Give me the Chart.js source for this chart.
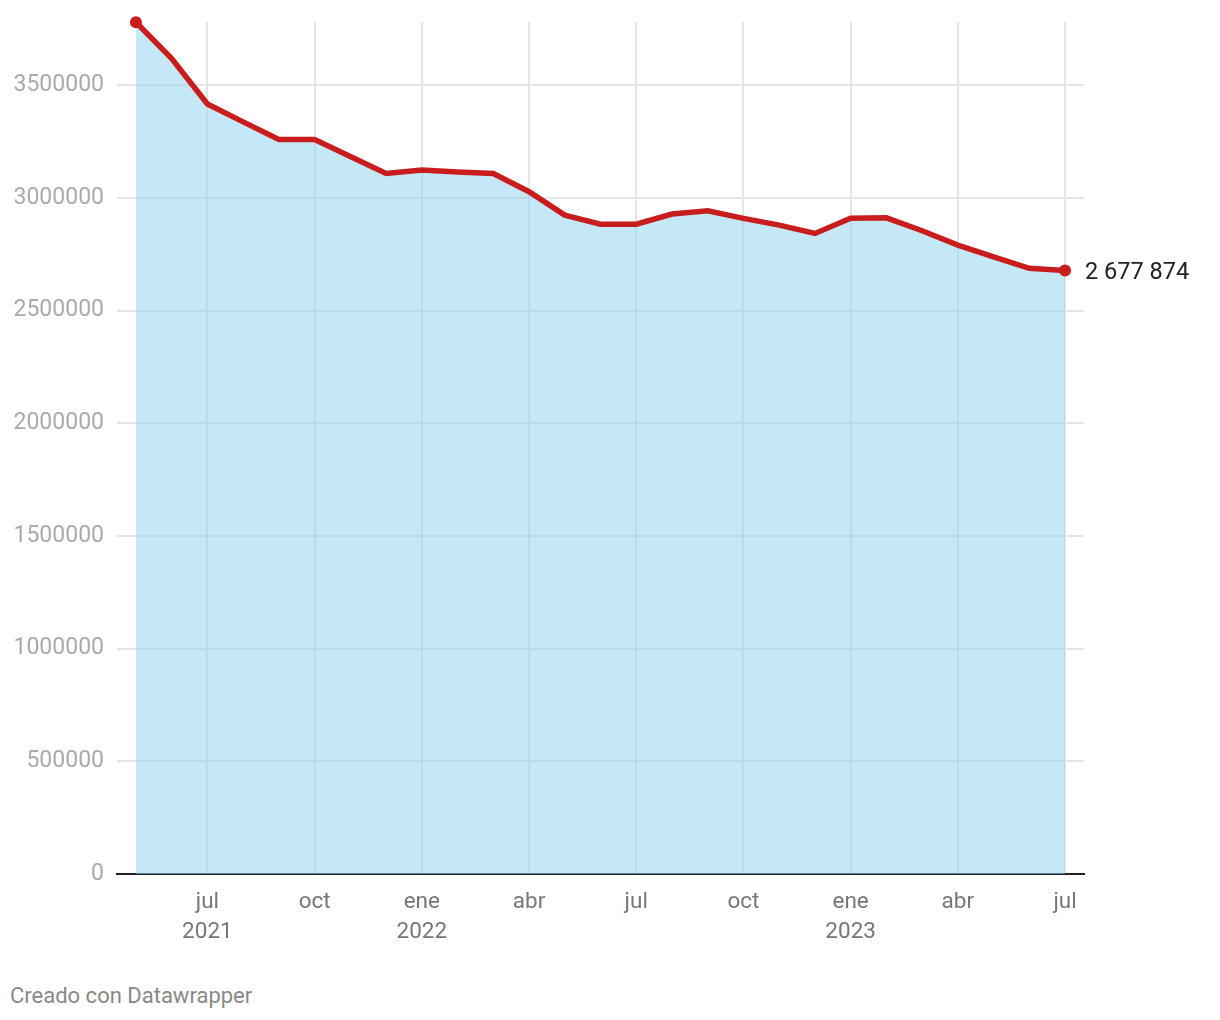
<!DOCTYPE html>
<html>
<head>
<meta charset="utf-8">
<script src="https://cdn.jsdelivr.net/npm/chart.js@4/dist/chart.umd.min.js"></script>
<style>
  body { margin: 0; background: #fff; font-family: Roboto, sans-serif; }
  #wrap { position: relative; width: 1220px; height: 1020px; }
  #chart { position: absolute; left: 0; top: 0; }
  #footer { position: absolute; left: 10px; top: 983px; font-size: 22px; color: #888; }
</style>
</head>
<body>
<div id="wrap">
  <canvas id="chart" width="1220" height="960"></canvas>
  <div id="footer">Creado con Datawrapper</div>
</div>
<script>
// months from may 2021 (index 0) to jul 2023 (index 26)
const months = [
  'may 2021', 'jun 2021', 'jul 2021', 'ago 2021', 'sep 2021', 'oct 2021', 'nov 2021', 'dic 2021',
  'ene 2022', 'feb 2022', 'mar 2022', 'abr 2022', 'may 2022', 'jun 2022', 'jul 2022', 'ago 2022',
  'sep 2022', 'oct 2022', 'nov 2022', 'dic 2022', 'ene 2023', 'feb 2023', 'mar 2023', 'abr 2023',
  'may 2023', 'jun 2023', 'jul 2023'
];
const values = [
  3779000, 3618000, 3416000, 3337000, 3259000, 3259000, 3183000, 3108000,
  3123000, 3114000, 3108000, 3027000, 2923000, 2883000, 2883000, 2928000,
  2942000, 2909000, 2879000, 2842000, 2909000, 2911000, 2854000, 2790000,
  2738000, 2687000, 2677874
];
// x tick positions (month index) and their labels
const tickIdx = [2, 5, 8, 11, 14, 17, 20, 23, 26];
const tickLabels = [['jul', '2021'], 'oct', ['ene', '2022'], 'abr', 'jul', 'oct', ['ene', '2023'], 'abr', 'jul'];
const yTicks = [0, 500000, 1000000, 1500000, 2000000, 2500000, 3000000, 3500000];

const points = values.map((v, i) => ({ x: i, y: v }));

const endLabel = {
  id: 'endLabel',
  afterDatasetsDraw(chart) {
    const meta = chart.getDatasetMeta(0);
    const last = meta.data[meta.data.length - 1];
    const v = values[values.length - 1];
    const txt = v.toString().replace(/\B(?=(\d{3})+(?!\d))/g, ' ');
    const ctx = chart.ctx;
    ctx.save();
    ctx.font = '23.5px Roboto';
    ctx.fillStyle = '#222';
    ctx.textBaseline = 'middle';
    ctx.textAlign = 'left';
    ctx.fillText(txt, last.x + 20, last.y + 3);
    ctx.restore();
  }
};

new Chart(document.getElementById('chart'), {
  type: 'line',
  data: {
    datasets: [{
      data: points,
      borderColor: '#c91d1d',
      borderWidth: 5.5,
      backgroundColor: 'rgba(148,212,240,0.54)',
      fill: 'origin',
      tension: 0,
      clip: false,
      pointRadius: ctx => (ctx.dataIndex === 0 || ctx.dataIndex === values.length - 1) ? 6 : 0,
      pointBackgroundColor: '#c91d1d',
      pointBorderWidth: 0
    }]
  },
  options: {
    responsive: false,
    animation: false,
    layout: { padding: { left: 0, top: 22, right: 136, bottom: 0 } },
    plugins: { legend: { display: false }, tooltip: { enabled: false } },
    scales: {
      x: {
        type: 'linear',
        min: -0.53,
        max: 26.53,
        afterBuildTicks: s => { s.ticks = tickIdx.map(v => ({ value: v })); },
        afterFit: s => { s.height = 86; s.paddingLeft = 0; s.paddingRight = 0; },
        grid: { color: '#e5e5e5', lineWidth: 2, drawTicks: false },
        border: { display: true, color: '#222', width: 2 },
        ticks: {
          padding: 13,
          color: '#777',
          font: { family: 'Roboto', size: 22.5, lineHeight: 1.33 },
          maxRotation: 0,
          callback: v => tickLabels[tickIdx.indexOf(v)]
        }
      },
      y: {
        min: 0,
        max: 3780000,
        afterBuildTicks: s => { s.ticks = yTicks.map(v => ({ value: v })); },
        afterFit: s => { s.width = 117; s.paddingTop = 0; s.paddingBottom = 0; },
        grid: { color: '#e5e5e5', lineWidth: 2, drawTicks: false },
        border: { display: false },
        ticks: {
          padding: 13,
          color: '#aaa',
          font: { family: 'Roboto', size: 23 },
          callback: v => String(v)
        }
      }
    }
  },
  plugins: [endLabel]
});
</script>
</body>
</html>
